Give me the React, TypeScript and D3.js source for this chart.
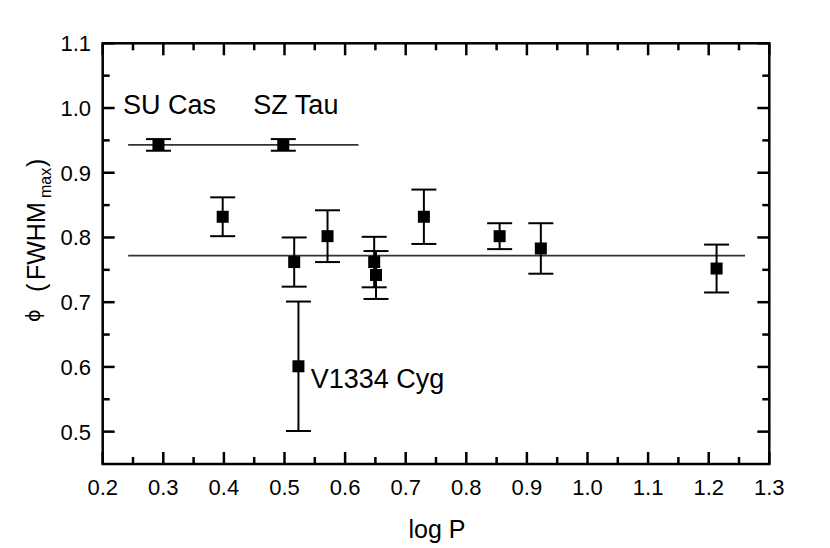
import React from "react";
import * as d3 from "d3";

// ---- data ----
const logP = [0.292, 0.498, 0.398, 0.516, 0.571, 0.523, 0.648, 0.651, 0.730, 0.855, 0.923, 1.213];
const phiVals = [0.943, 0.943, 0.832, 0.762, 0.802, 0.601, 0.762, 0.742, 0.832, 0.802, 0.783, 0.752];
const phiErr = [0.009, 0.009, 0.030, 0.038, 0.040, 0.100, 0.039, 0.037, 0.042, 0.020, 0.039, 0.037];

const fitLevel = [0.943, 0.772];
const fitFrom = [0.242, 0.242];
const fitTo = [0.622, 1.26];

const starNames = ["SU Cas", "SZ Tau", "V1334 Cyg"];
const starLabelX = [0.2333, 0.4486, 0.5433];
const starLabelY = [0.9915, 0.9907, 0.5668];

const xMajor = [0.2, 0.3, 0.4, 0.5, 0.6, 0.7, 0.8, 0.9, 1.0, 1.1, 1.2, 1.3];
const xMinor = [0.25, 0.35, 0.45, 0.55, 0.65, 0.75, 0.85, 0.95, 1.05, 1.15, 1.25];
const yMajor = [0.5, 0.6, 0.7, 0.8, 0.9, 1.0, 1.1];
const yMinor = [0.55, 0.65, 0.75, 0.85, 0.95, 1.05];

const W = 830;
const H = 548;
const L = 102.7, R = 769.3, T = 43.3, B = 464;

export default function App() {
  const x = d3.scaleLinear().domain([0.2, 1.3]).range([L, R]);
  const y = d3.scaleLinear().domain([0.45, 1.1]).range([B, T]);
  const fmt = d3.format(".1f");
  const font = "'Liberation Sans', Arial, Helvetica, sans-serif";
  const majorLen = 12, minorLen = 7;
  const sq = 12, capHalf = 12.5;

  return (
    <svg width={W} height={H} style={{ position: "absolute", left: 0, top: 0, background: "#fff" }}
      fontFamily={font}>
      <rect x={0} y={0} width={W} height={H} fill="#fff" />
      {/* fit lines */}
      {fitLevel.map((lv, i) => (
        <line key={"f" + i} x1={x(fitFrom[i])} x2={x(fitTo[i])} y1={y(lv)} y2={y(lv)}
          stroke="#333" strokeWidth={1.6} />
      ))}
      {/* error bars */}
      {logP.map((p, i) => {
        const cx = x(p);
        const y1 = y(phiVals[i] + phiErr[i]);
        const y2 = y(phiVals[i] - phiErr[i]);
        return (
          <g key={"e" + i} stroke="#000" strokeWidth={2}>
            <line x1={cx} x2={cx} y1={y1} y2={y2} />
            <line x1={cx - capHalf} x2={cx + capHalf} y1={y1} y2={y1} />
            <line x1={cx - capHalf} x2={cx + capHalf} y1={y2} y2={y2} />
          </g>
        );
      })}
      {/* markers */}
      {logP.map((p, i) => (
        <rect key={"m" + i} x={x(p) - sq / 2} y={y(phiVals[i]) - sq / 2} width={sq} height={sq} fill="#000" />
      ))}
      {/* frame */}
      <rect x={L} y={T} width={R - L} height={B - T} fill="none" stroke="#000" strokeWidth={2.5} />
      {/* ticks */}
      <g stroke="#000" strokeWidth={2.5}>
        {xMajor.map((v) => (
          <g key={"xM" + v}>
            <line x1={x(v)} x2={x(v)} y1={B} y2={B - majorLen} />
            <line x1={x(v)} x2={x(v)} y1={T} y2={T + majorLen} />
          </g>
        ))}
        {xMinor.map((v) => (
          <g key={"xm" + v}>
            <line x1={x(v)} x2={x(v)} y1={B} y2={B - minorLen} />
            <line x1={x(v)} x2={x(v)} y1={T} y2={T + minorLen} />
          </g>
        ))}
        {yMajor.map((v) => (
          <g key={"yM" + v}>
            <line x1={L} x2={L + majorLen} y1={y(v)} y2={y(v)} />
            <line x1={R} x2={R - majorLen} y1={y(v)} y2={y(v)} />
          </g>
        ))}
        {yMinor.map((v) => (
          <g key={"ym" + v}>
            <line x1={L} x2={L + minorLen} y1={y(v)} y2={y(v)} />
            <line x1={R} x2={R - minorLen} y1={y(v)} y2={y(v)} />
          </g>
        ))}
      </g>
      {/* tick labels */}
      {xMajor.map((v) => (
        <text key={"xl" + v} x={x(v)} y={495} fontSize={22} textAnchor="middle" fill="#000">{fmt(v)}</text>
      ))}
      {yMajor.map((v) => (
        <text key={"yl" + v} x={91} y={y(v) + 8} fontSize={22} textAnchor="end" fill="#000">{fmt(v)}</text>
      ))}
      {/* axis titles */}
      <text x={437} y={538} fontSize={25} textAnchor="middle" fill="#000">log P</text>
      <g transform="translate(45,322) rotate(-90)" fill="#000">
        <text x={0} y={-5} fontSize={19} fontFamily="'DejaVu Sans', sans-serif">ϕ</text>
        <text x={30} y={0} fontSize={25}>(</text>
        <text x={42} y={0} fontSize={25}>FWHM</text>
        <text x={124} y={6} fontSize={16}>max</text>
        <text x={155} y={0} fontSize={25}>)</text>
      </g>
      {/* annotations */}
      {starNames.map((s, i) => (
        <text key={s} x={x(starLabelX[i])} y={y(starLabelY[i])} fontSize={27} fill="#000">{s}</text>
      ))}
    </svg>
  );
}
